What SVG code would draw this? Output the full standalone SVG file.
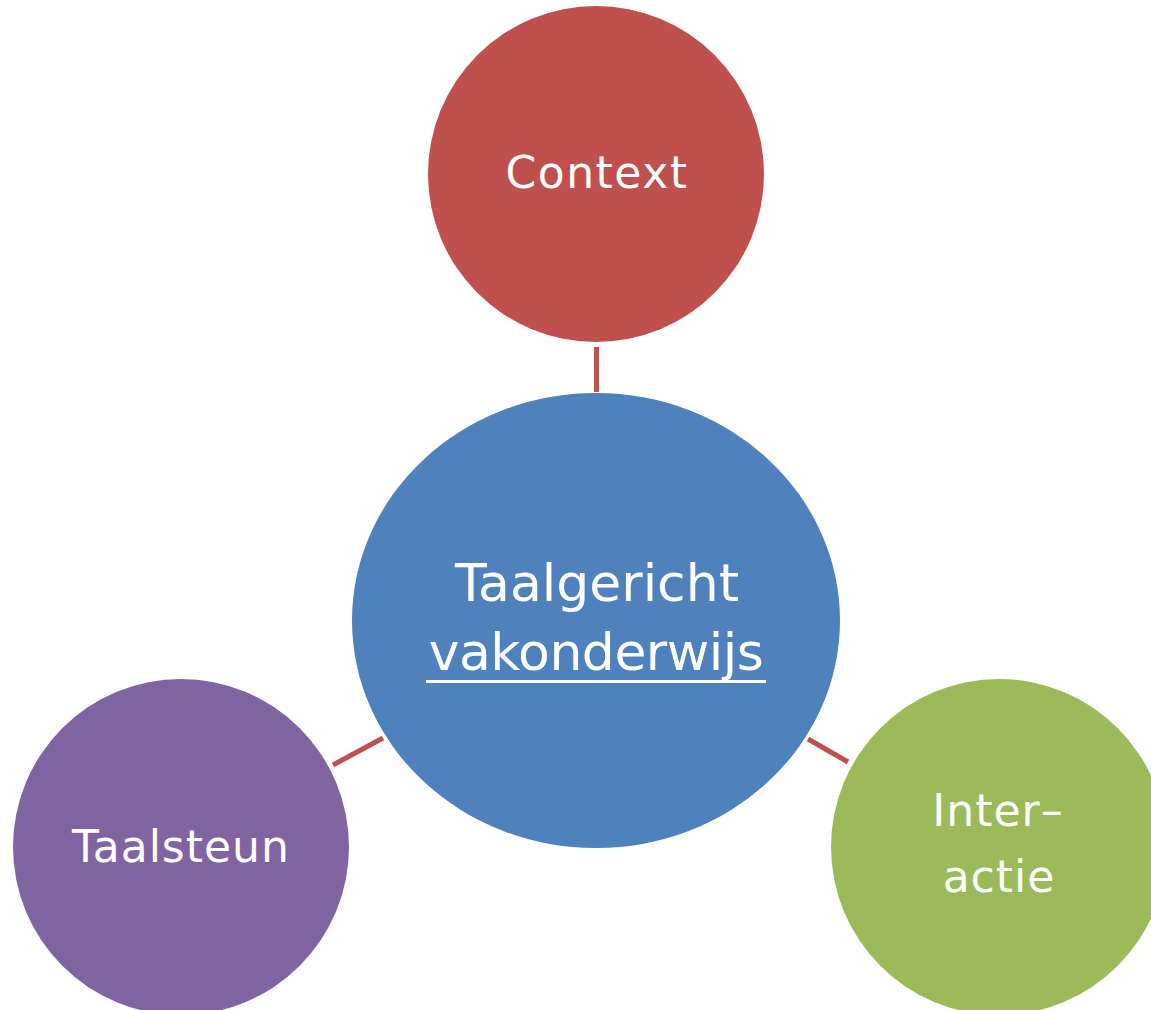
<svg xmlns="http://www.w3.org/2000/svg" width="1151" height="1010" viewBox="0 0 1151 1010">
<style>
.lbl{font-family:"DejaVu Sans","Noto Sans",sans-serif;fill:#fff;text-anchor:middle}
.conn{stroke:#C0504D;stroke-width:5;fill:none}
</style>
<rect width="1151" height="1010" fill="#fff"/>
<g id="connectors">
<line class="conn" x1="596.5" y1="347" x2="596.5" y2="392"/>
<line class="conn" x1="333" y1="765" x2="383" y2="738"/>
<line class="conn" x1="808" y1="739" x2="848" y2="762"/>
</g>
<g id="node-context">
<circle cx="596" cy="174" r="168" fill="#C0504D"/>
<text class="lbl" x="597" y="188" font-size="44" letter-spacing="1.5">Context</text>
</g>
<g id="node-center">
<ellipse cx="596" cy="620.5" rx="244" ry="227.5" fill="#4F81BD"/>
<text class="lbl" x="597" y="601" font-size="52" letter-spacing="0">Taalgericht</text>
<text class="lbl" x="596" y="670" font-size="52" letter-spacing="-0.5">vakonderwijs</text>
<rect x="426" y="680" width="340" height="3" fill="#fff"/>
</g>
<g id="node-taalsteun">
<circle cx="181" cy="847" r="168" fill="#8064A2"/>
<text class="lbl" x="181" y="862" font-size="44" letter-spacing="1">Taalsteun</text>
</g>
<g id="node-interactie">
<circle cx="999" cy="847" r="168" fill="#9BBB59"/>
<text class="lbl" x="998" y="826" font-size="44" letter-spacing="1">Inter–</text>
<text class="lbl" x="999" y="892" font-size="44" letter-spacing="1">actie</text>
</g>
</svg>
